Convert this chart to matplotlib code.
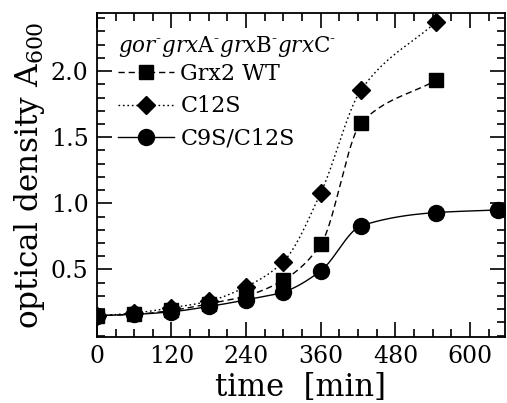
#!/usr/bin/env python3
"""Growth curves of gor- grxA- grxB- grxC- strains expressing Grx2 variants."""
import numpy as np
import matplotlib
matplotlib.use("Agg")
import matplotlib.pyplot as plt
from matplotlib.ticker import MultipleLocator

# ---------- Data ----------
time_min = [0, 60, 120, 180, 240, 300, 360, 425, 545, 645]
wt = [0.15, 0.16, 0.19, 0.24, 0.30, 0.42, 0.69, 1.61, 1.93]
c12s = [0.15, 0.17, 0.21, 0.26, 0.37, 0.56, 1.08, 1.86, 2.37]
c9s_c12s = [0.15, 0.16, 0.18, 0.22, 0.27, 0.33, 0.49, 0.83, 0.93, 0.95]

series_labels = ["Grx2 WT", "C12S", "C9S/C12S"]
legend_title = ("$\\mathit{gor}^{\u2010}\\mathit{grx}\\mathrm{A}^{\u2010}"
                "\\mathit{grx}\\mathrm{B}^{\u2010}\\mathit{grx}\\mathrm{C}^{\u2010}$")
x_ticks = [0, 120, 240, 360, 480, 600]
y_ticks = [0.5, 1.0, 1.5, 2.0]

# ---------- Style ----------
plt.rcParams.update({
    "font.family": "DejaVu Serif",
    "mathtext.fontset": "dejavuserif",
    "axes.linewidth": 1.3,
})


def smooth(x, y, n=300):
    """Monotone cubic (Fritsch-Carlson) curve through the measured points."""
    x = np.asarray(x, float)
    y = np.asarray(y, float)
    h = np.diff(x)
    d = np.diff(y) / h
    m = np.zeros_like(y)
    m[0], m[-1] = d[0], d[-1]
    for i in range(1, len(x) - 1):
        if d[i - 1] * d[i] > 0:
            w1 = 2 * h[i] + h[i - 1]
            w2 = h[i] + 2 * h[i - 1]
            m[i] = (w1 + w2) / (w1 / d[i - 1] + w2 / d[i])
    xs = np.linspace(x[0], x[-1], n)
    k = np.clip(np.searchsorted(x, xs) - 1, 0, len(x) - 2)
    t = (xs - x[k]) / h[k]
    h00 = 2 * t**3 - 3 * t**2 + 1
    h10 = t**3 - 2 * t**2 + t
    h01 = -2 * t**3 + 3 * t**2
    h11 = t**3 - t**2
    ys = h00 * y[k] + h10 * h[k] * m[k] + h01 * y[k + 1] + h11 * h[k] * m[k + 1]
    return xs, ys


fig = plt.figure(figsize=(5.07, 4.03), dpi=100)
ax = fig.add_axes([0.191, 0.164, 0.805, 0.804])

specs = [
    (c12s, "D", 9, (0, (1.2, 2.0)), series_labels[1]),
    (c9s_c12s, "o", 11.5, "-", series_labels[2]),
    (wt, "s", 10, (0, (4.5, 2.8)), series_labels[0]),
]
handles = {}
for vals, mk, ms, ls, lab in specs:
    t = time_min[:len(vals)]
    xs, ys = smooth(t, vals)
    ax.plot(xs, ys, color="black", lw=1.0, ls=ls)
    ax.plot(t, vals, ls="none", marker=mk, ms=ms, color="black")
    handles[lab] = plt.Line2D([], [], color="black", lw=1.0, ls=ls,
                              marker=mk, ms=ms)

ax.set_xlim(0, 656)
ax.set_ylim(-0.01, 2.44)
ax.set_xticks(x_ticks)
ax.set_yticks(y_ticks)
ax.set_yticklabels([f"{v:.1f}" for v in y_ticks])
ax.xaxis.set_minor_locator(MultipleLocator(30))
ax.yaxis.set_minor_locator(MultipleLocator(0.1))
ax.tick_params(which="both", direction="in", top=True, right=True,
               width=1.2, labelsize=17)
ax.tick_params(which="major", length=11, pad=6)
ax.tick_params(which="minor", length=6)

ax.set_xlabel("time  [min]", fontsize=22, labelpad=3)
ax.set_ylabel(r"optical density A$_{600}$", fontsize=22.5, labelpad=3)

leg = ax.legend([handles[l] for l in series_labels], series_labels,
                title=legend_title, loc="upper left",
                bbox_to_anchor=(0.052, 0.935), frameon=False, fontsize=16,
                title_fontsize=15.5, handlelength=2.5, handletextpad=0.3,
                labelspacing=0.46, borderaxespad=0.0, borderpad=0.0)
leg._legend_box.align = "left"
leg._legend_box.sep = 3

fig.savefig("out.png", dpi=100)
